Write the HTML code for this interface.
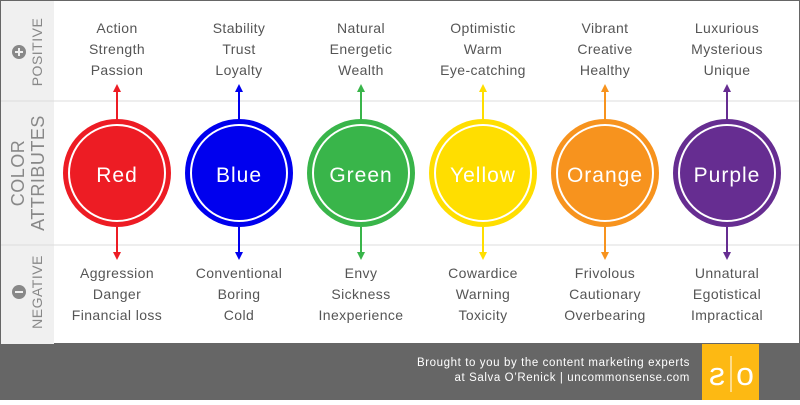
<!DOCTYPE html>
<html><head><meta charset="utf-8"><style>
body{margin:0;width:800px;height:400px;overflow:hidden;background:#fff;font-family:"Liberation Sans",sans-serif}
</style></head><body>
<svg width="800" height="400" xmlns="http://www.w3.org/2000/svg" font-family="Liberation Sans, sans-serif">
<rect x="0" y="0" width="800" height="400" fill="#fff"/>
<rect x="0" y="0" width="800" height="344" fill="none" stroke="#666" stroke-width="2"/>
<rect x="1" y="1" width="53" height="343" fill="#f0f0f0"/>
<line x1="1" y1="101" x2="799" y2="101" stroke="#ddd" stroke-width="1"/>
<line x1="1" y1="245" x2="799" y2="245" stroke="#ddd" stroke-width="1"/>
<rect x="0" y="344" width="800" height="56" fill="#666"/>
<rect x="702" y="344" width="57" height="56" fill="#fdb913"/>
<text x="-717" y="385" font-size="32" fill="#fff" text-anchor="middle" transform="scale(-1 1)">s</text>
<line x1="731" y1="356" x2="731" y2="392" stroke="#fff" stroke-width="1"/>
<text x="745" y="385" font-size="32" fill="#fff" text-anchor="middle">o</text>
<text x="690" y="366" font-size="11.5" fill="#fff" text-anchor="end" letter-spacing="0.6">Brought to you by the content marketing experts</text>
<text x="690" y="381" font-size="11.5" fill="#fff" text-anchor="end" letter-spacing="0.6">at Salva O’Renick  |  uncommonsense.com</text>
<g fill="#888" font-size="14" text-anchor="middle" letter-spacing="0.5">
<text transform="translate(42 52) rotate(-90)">POSITIVE</text>
<text transform="translate(24 173) rotate(-90)" font-size="18">COLOR</text>
<text transform="translate(44 173) rotate(-90)" font-size="18">ATTRIBUTES</text>
<text transform="translate(42 292) rotate(-90)">NEGATIVE</text>
</g>
<circle cx="19" cy="52" r="7" fill="#888"/><path d="M15 52h8M19 48v8" stroke="#f0f0f0" stroke-width="2"/>
<circle cx="19" cy="292" r="7" fill="#888"/><path d="M15 292h8" stroke="#f0f0f0" stroke-width="2"/>
<g font-size="14" fill="#555" text-anchor="middle" letter-spacing="0.4">
<text x="117" y="33">Action</text><text x="117" y="54">Strength</text><text x="117" y="75">Passion</text>
<text x="117" y="278">Aggression</text><text x="117" y="299">Danger</text><text x="117" y="320">Financial loss</text>
<text x="239" y="33">Stability</text><text x="239" y="54">Trust</text><text x="239" y="75">Loyalty</text>
<text x="239" y="278">Conventional</text><text x="239" y="299">Boring</text><text x="239" y="320">Cold</text>
<text x="361" y="33">Natural</text><text x="361" y="54">Energetic</text><text x="361" y="75">Wealth</text>
<text x="361" y="278">Envy</text><text x="361" y="299">Sickness</text><text x="361" y="320">Inexperience</text>
<text x="483" y="33">Optimistic</text><text x="483" y="54">Warm</text><text x="483" y="75">Eye-catching</text>
<text x="483" y="278">Cowardice</text><text x="483" y="299">Warning</text><text x="483" y="320">Toxicity</text>
<text x="605" y="33">Vibrant</text><text x="605" y="54">Creative</text><text x="605" y="75">Healthy</text>
<text x="605" y="278">Frivolous</text><text x="605" y="299">Cautionary</text><text x="605" y="320">Overbearing</text>
<text x="727" y="33">Luxurious</text><text x="727" y="54">Mysterious</text><text x="727" y="75">Unique</text>
<text x="727" y="278">Unnatural</text><text x="727" y="299">Egotistical</text><text x="727" y="320">Impractical</text>
</g>
<g font-size="21" fill="#fff" text-anchor="middle">
<g stroke="#ed1c24" fill="#ed1c24"><line x1="117" y1="90" x2="117" y2="120" stroke-width="2"/><line x1="117" y1="227" x2="117" y2="255" stroke-width="2"/><path d="M113 92l4-8 4 8zM113 252l4 8 4-8z" stroke="none"/><circle cx="117" cy="173" r="54" stroke="none"/></g>
<g stroke="#0000ee" fill="#0000ee"><line x1="239" y1="90" x2="239" y2="120" stroke-width="2"/><line x1="239" y1="227" x2="239" y2="255" stroke-width="2"/><path d="M235 92l4-8 4 8zM235 252l4 8 4-8z" stroke="none"/><circle cx="239" cy="173" r="54" stroke="none"/></g>
<g stroke="#39b54a" fill="#39b54a"><line x1="361" y1="90" x2="361" y2="120" stroke-width="2"/><line x1="361" y1="227" x2="361" y2="255" stroke-width="2"/><path d="M357 92l4-8 4 8zM357 252l4 8 4-8z" stroke="none"/><circle cx="361" cy="173" r="54" stroke="none"/></g>
<g stroke="#ffde00" fill="#ffde00"><line x1="483" y1="90" x2="483" y2="120" stroke-width="2"/><line x1="483" y1="227" x2="483" y2="255" stroke-width="2"/><path d="M479 92l4-8 4 8zM479 252l4 8 4-8z" stroke="none"/><circle cx="483" cy="173" r="54" stroke="none"/></g>
<g stroke="#f7931e" fill="#f7931e"><line x1="605" y1="90" x2="605" y2="120" stroke-width="2"/><line x1="605" y1="227" x2="605" y2="255" stroke-width="2"/><path d="M601 92l4-8 4 8zM601 252l4 8 4-8z" stroke="none"/><circle cx="605" cy="173" r="54" stroke="none"/></g>
<g stroke="#662d91" fill="#662d91"><line x1="727" y1="90" x2="727" y2="120" stroke-width="2"/><line x1="727" y1="227" x2="727" y2="255" stroke-width="2"/><path d="M723 92l4-8 4 8zM723 252l4 8 4-8z" stroke="none"/><circle cx="727" cy="173" r="54" stroke="none"/></g>
<g fill="none" stroke="#fff" stroke-width="2">
<circle cx="117" cy="173" r="48"/><circle cx="239" cy="173" r="48"/><circle cx="361" cy="173" r="48"/><circle cx="483" cy="173" r="48"/><circle cx="605" cy="173" r="48"/><circle cx="727" cy="173" r="48"/>
</g>
<g letter-spacing="1">
<text x="117" y="182">Red</text><text x="239" y="182">Blue</text><text x="361" y="182">Green</text><text x="483" y="182">Yellow</text><text x="605" y="182">Orange</text><text x="727" y="182">Purple</text>
</g>
</g>
</svg>
</body></html>
